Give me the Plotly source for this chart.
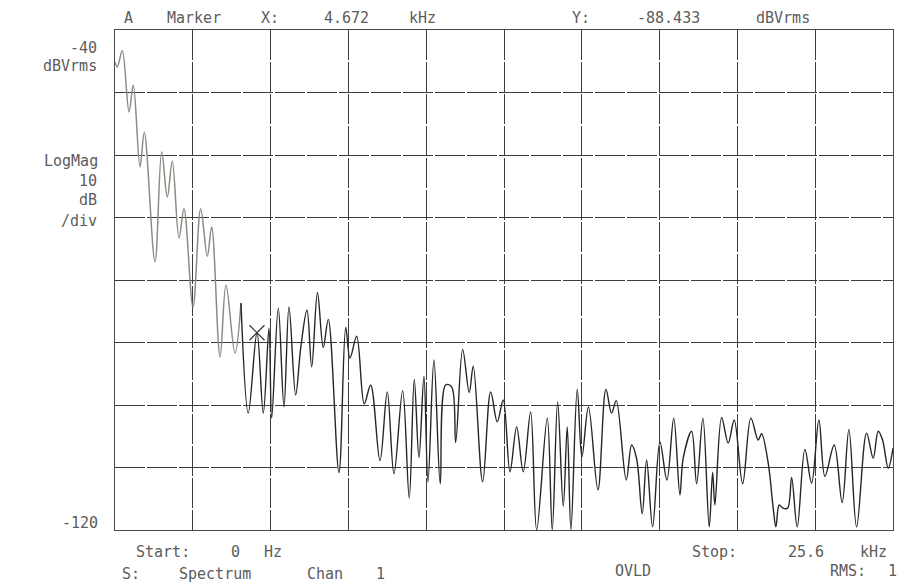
import plotly.graph_objects as go

# Spectrum trace: frequency (kHz) and level (dBVrms)
freq_khz = [
    0.000, 0.076, 0.240, 0.461, 0.602, 0.823, 0.964, 1.316, 1.536, 1.721,
    1.885, 2.106, 2.270, 2.566, 2.820, 3.037, 3.181, 3.455, 3.652, 3.948,
    4.145, 4.386, 4.672, 4.879, 5.067, 5.155, 5.373, 5.560, 5.725, 5.945,
    6.110, 6.317, 6.472, 6.662, 6.853, 7.018, 7.370, 7.593, 7.732, 7.952,
    8.202, 8.413, 8.719, 8.959, 9.179, 9.465, 9.682, 9.847, 10.002, 10.166,
    10.298, 10.495, 10.702, 10.880, 11.077, 11.209, 11.439, 11.656, 11.788, 12.097,
    12.361, 12.578, 12.775, 12.996, 13.216, 13.433, 13.677, 13.874, 14.223, 14.388,
    14.565, 14.750, 14.881, 15.002, 15.210, 15.364, 15.578, 15.891, 16.154, 16.341,
    16.493, 16.822, 17.000, 17.164, 17.348, 17.493, 17.690, 17.931, 18.161, 18.385,
    18.589, 18.697, 18.974, 19.138, 19.345, 19.553, 19.665, 19.740, 19.961, 20.178,
    20.375, 20.652, 20.924, 21.164, 21.276, 21.494, 21.658, 21.747, 21.856, 21.977,
    22.132, 22.264, 22.448, 22.701, 22.922, 23.162, 23.359, 23.665, 23.928, 24.149,
    24.402, 24.731, 24.948, 25.113, 25.257, 25.442, 25.600,
]
level_dbv = [
    -45.1, -45.9, -43.3, -53.1, -48.8, -61.9, -56.4, -77.1, -59.5, -66.7,
    -61.0, -73.3, -68.6, -84.3, -68.6, -76.2, -71.5, -92.3, -80.8, -91.7,
    -83.7, -101.3, -88.433, -101.3, -87.7, -102.1, -84.5, -100.3, -84.3, -98.4,
    -90.9, -84.8, -93.9, -82.0, -90.8, -86.3, -110.8, -87.6, -92.5, -89.0,
    -99.8, -96.8, -108.9, -97.9, -111.0, -97.7, -114.9, -95.9, -108.4, -95.4,
    -112.3, -92.8, -112.6, -96.8, -97.1, -106.0, -91.1, -98.0, -93.8, -112.3,
    -97.9, -102.7, -99.2, -110.7, -103.5, -110.7, -101.1, -120.0, -102.1, -120.0,
    -99.5, -116.2, -103.5, -120.0, -97.5, -108.3, -100.3, -113.6, -97.5, -101.3,
    -99.3, -112.0, -106.4, -108.6, -117.4, -108.8, -119.5, -105.9, -112.0, -102.1,
    -114.4, -108.5, -104.2, -112.6, -102.1, -119.5, -110.8, -116.0, -102.0, -106.1,
    -102.4, -112.6, -102.1, -105.6, -104.6, -109.3, -116.5, -119.5, -116.0, -116.5,
    -116.5, -111.6, -119.5, -107.1, -112.5, -102.4, -111.4, -106.4, -115.6, -103.9,
    -119.5, -104.5, -108.5, -104.2, -105.6, -110.1, -106.9,
]

marker_khz = 4.672
marker_dbv = -88.433

start_khz, stop_khz = 0.0, 25.6
ref_top_db, ref_bottom_db, db_per_div = -40, -120, 10

TEXT_FONT = dict(family="DejaVu Sans Mono", size=15, color="#5c5c5c")
FADE_SPLIT = 20  # low-frequency part of the trace is printed lighter
TRACE_SHAPE = dict(shape="spline", smoothing=1.0)

fig = go.Figure()
fig.add_trace(go.Scatter(
    x=freq_khz[:FADE_SPLIT + 1], y=level_dbv[:FADE_SPLIT + 1], mode="lines",
    line=dict(color="#8f8a83", width=1.5, **TRACE_SHAPE),
    showlegend=False, hoverinfo="skip",
))
fig.add_trace(go.Scatter(
    x=freq_khz[FADE_SPLIT:], y=level_dbv[FADE_SPLIT:], mode="lines",
    line=dict(color="#262626", width=1.4, **TRACE_SHAPE),
    showlegend=False, hoverinfo="skip",
))
fig.add_trace(go.Scatter(
    x=[marker_khz], y=[marker_dbv], mode="markers",
    marker=dict(symbol="x-thin", size=15, line=dict(color="#333333", width=1.2)),
    showlegend=False, hoverinfo="skip",
))

grid_style = dict(showgrid=True, gridcolor="#3c3c3c", gridwidth=1,
                  griddash="30px,2px", zeroline=False,
                  showline=True, linecolor="#4a4a4a", linewidth=1, mirror=True,
                  showticklabels=False, ticks="")

fig.update_xaxes(range=[start_khz, stop_khz], dtick=(stop_khz - start_khz) / 10,
                 tick0=start_khz, **grid_style)
fig.update_yaxes(range=[ref_bottom_db, ref_top_db], dtick=db_per_div,
                 tick0=ref_bottom_db, **grid_style)


def label(text, x, y, anchor="center"):
    fig.add_annotation(text=text, x=x, y=y, xref="paper", yref="paper",
                       xanchor=anchor, yanchor="middle", showarrow=False,
                       font=TEXT_FONT)


W, H = 898, 584
L, R, T, B = 115, 5, 30, 54
PW, PH = W - L - R, H - T - B


def px(xp):
    return (xp - L) / PW


def py(yp):
    return 1 - (yp - T) / PH


# Marker readout
for word, xc in [("A", 128), ("Marker", 194), ("X:", 270), ("4.672", 346), ("kHz", 422),
                 ("Y:", 581), ("-88.433", 668), ("dBVrms", 783)]:
    label(word, px(xc), py(18))

# Scale labels
label("-40", px(99), py(48), "right")
label("dBVrms", px(99), py(66), "right")
label("LogMag", px(100), py(161), "right")
label("10", px(99), py(181), "right")
label("dB", px(99), py(200), "right")
label("/div", px(99), py(221), "right")
label("-120", px(100), py(523), "right")

# Footer
for word, xc, yc in [("Start:", 163, 552), ("0", 235, 552), ("Hz", 273, 552),
                     ("S:", 131, 574), ("Spectrum", 215, 574), ("Chan", 325, 574), ("1", 380, 574),
                     ("Stop:", 714, 552), ("25.6", 806, 552), ("kHz", 873, 552),
                     ("OVLD", 633, 571), ("RMS:", 848, 571), ("1", 892, 571)]:
    label(word, px(xc), py(yc))

fig.update_layout(
    width=W, height=H,
    margin=dict(l=L, r=R, t=T, b=B, pad=0),
    paper_bgcolor="white", plot_bgcolor="white",
)

fig.write_html("out.html")
